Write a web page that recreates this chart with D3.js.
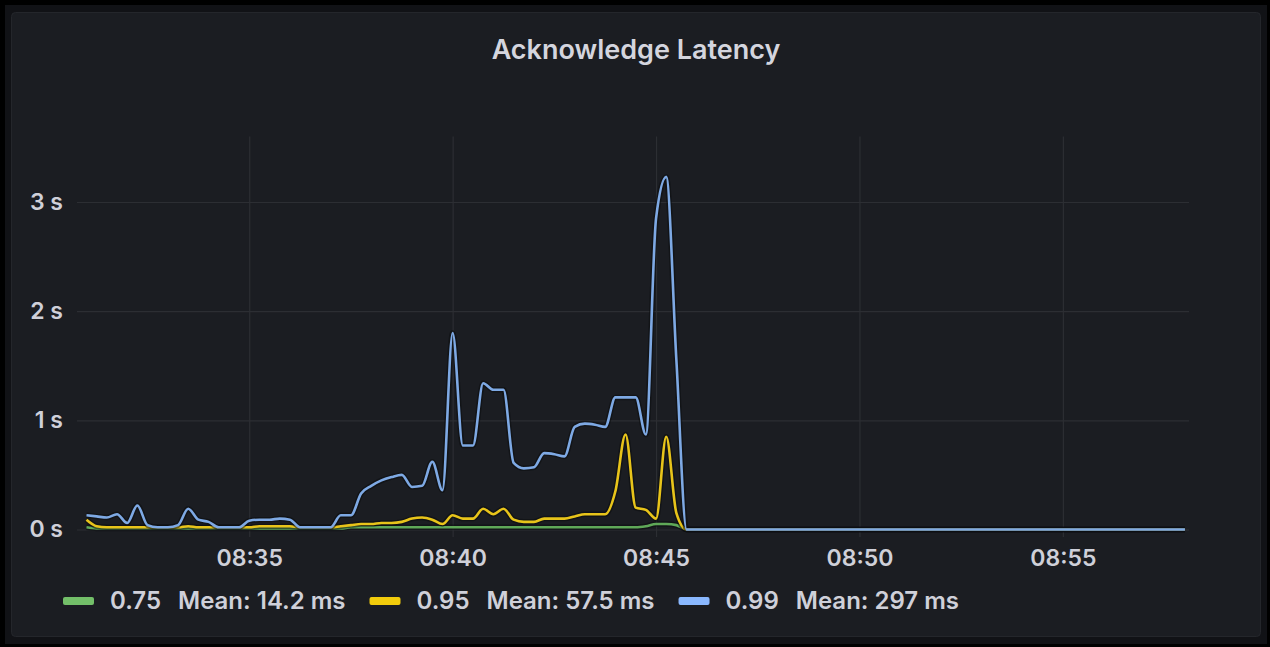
<!DOCTYPE html>
<html>
<head>
<meta charset="utf-8">
<script src="https://cdn.jsdelivr.net/npm/d3@7"></script>
<style>
  html, body { margin: 0; padding: 0; background: #000; }
  svg { display: block; font-family: Inter, "Noto Sans", sans-serif; }
</style>
</head>
<body>
<svg id="chart"></svg>
<script>
// Data (15 s samples, then flat zero to the end)
var times = [
    '08:31:00', '08:31:15', '08:31:30', '08:31:45', '08:32:00', '08:32:15', '08:32:30', '08:32:45',
    '08:33:00', '08:33:15', '08:33:30', '08:33:45', '08:34:00', '08:34:15', '08:34:30', '08:34:45',
    '08:35:00', '08:35:15', '08:35:30', '08:35:45', '08:36:00', '08:36:15', '08:36:30', '08:36:45',
    '08:37:00', '08:37:15', '08:37:30', '08:37:45', '08:38:00', '08:38:15', '08:38:30', '08:38:45',
    '08:39:00', '08:39:15', '08:39:30', '08:39:45', '08:40:00', '08:40:15', '08:40:30', '08:40:45',
    '08:41:00', '08:41:15', '08:41:30', '08:41:45', '08:42:00', '08:42:15', '08:42:30', '08:42:45',
    '08:43:00', '08:43:15', '08:43:30', '08:43:45', '08:44:00', '08:44:15', '08:44:30', '08:44:45',
    '08:45:00', '08:45:15', '08:45:30', '08:45:45', '08:58:00'
];

var p75 = [
    0.02, 0.01, 0.01, 0.01, 0.01, 0.01, 0.01, 0.01,
    0.01, 0.01, 0.01, 0.01, 0.01, 0.01, 0.01, 0.01,
    0.01, 0.01, 0.01, 0.01, 0.01, 0.01, 0.01, 0.01,
    0.01, 0.01, 0.02, 0.02, 0.02, 0.02, 0.02, 0.02,
    0.02, 0.02, 0.02, 0.02, 0.02, 0.02, 0.02, 0.02,
    0.02, 0.02, 0.02, 0.02, 0.02, 0.02, 0.02, 0.02,
    0.02, 0.02, 0.02, 0.02, 0.02, 0.02, 0.02, 0.03,
    0.05, 0.05, 0.04, 0, 0
];

var p95 = [
    0.09, 0.03, 0.02, 0.02, 0.02, 0.02, 0.02, 0.02,
    0.02, 0.02, 0.03, 0.02, 0.02, 0.02, 0.02, 0.02,
    0.02, 0.03, 0.03, 0.03, 0.03, 0.02, 0.02, 0.02,
    0.02, 0.03, 0.04, 0.05, 0.05, 0.06, 0.06, 0.07,
    0.10, 0.11, 0.09, 0.05, 0.13, 0.10, 0.10, 0.19,
    0.14, 0.19, 0.09, 0.07, 0.07, 0.10, 0.10, 0.10,
    0.12, 0.14, 0.14, 0.14, 0.35, 0.87, 0.20, 0.18,
    0.10, 0.85, 0.15, 0, 0
];

var p99 = [
    0.13, 0.12, 0.11, 0.14, 0.06, 0.22, 0.04, 0.02,
    0.02, 0.04, 0.19, 0.09, 0.07, 0.02, 0.02, 0.02,
    0.08, 0.09, 0.09, 0.10, 0.09, 0.02, 0.02, 0.02,
    0.02, 0.13, 0.13, 0.33, 0.40, 0.45, 0.48, 0.50,
    0.39, 0.40, 0.62, 0.36, 1.80, 0.77, 0.77, 1.34,
    1.28, 1.28, 0.61, 0.56, 0.57, 0.70, 0.69, 0.67,
    0.94, 0.97, 0.96, 0.94, 1.21, 1.21, 1.21, 0.87,
    2.85, 3.23, 1.55, 0, 0
];

var seriesNames = ['0.75', '0.95', '0.99'];
var seriesMeans = ['Mean: 14.2 ms', 'Mean: 57.5 ms', 'Mean: 297 ms'];
var seriesColors = ['#73bf69', '#f2cc0c', '#8ab8ff'];
var lineColors = ['#5fa858', '#e8c41a', '#7ea9e4'];
var yTicks = [0, 1, 2, 3];
var timeStart = '08:30:46';
var timeEnd = '08:58:06';

// Set up the svg area
var svgWidth = 1270;
var svgHeight = 647;

var svg = d3.select('#chart')
    .attr('width', svgWidth)
    .attr('height', svgHeight);

svg.append('rect')
    .attr('width', svgWidth)
    .attr('height', svgHeight)
    .attr('fill', '#000');

svg.append('rect')
    .attr('x', 5)
    .attr('y', 5)
    .attr('width', svgWidth - 8)
    .attr('height', svgHeight - 8)
    .attr('fill', '#111216');

svg.append('rect')
    .attr('x', 11.5)
    .attr('y', 12.5)
    .attr('width', 1249)
    .attr('height', 624)
    .attr('rx', 4)
    .attr('fill', '#1b1d22')
    .attr('stroke', '#24262b');

// Title
svg.append('text')
    .attr('x', 636)
    .attr('y', 50)
    .attr('dy', '0.35em')
    .attr('text-anchor', 'middle')
    .attr('fill', '#d4d5de')
    .style('font-size', '27px')
    .style('font-weight', 600)
    .text('Acknowledge Latency');

// Chart area
var plot = { left: 77, right: 1189, top: 136.5, zero: 529.5, bottom: 537 };

var parseTime = d3.timeParse('%H:%M:%S');

var xScale = d3.scaleTime()
    .domain([parseTime(timeStart), parseTime(timeEnd)])
    .range([plot.left, plot.right]);

var yScale = d3.scaleLinear()
    .domain([0, 3.6])
    .range([plot.zero, plot.top]);

// Axes with gridlines
var xAxis = svg.append('g')
    .attr('transform', `translate(0, ${plot.bottom})`)
    .call(d3.axisBottom(xScale)
        .ticks(d3.timeMinute.every(5))
        .tickFormat(d3.timeFormat('%H:%M'))
        .tickSize(-(plot.bottom - plot.top))
        .tickPadding(13));

var yAxis = svg.append('g')
    .attr('transform', `translate(${plot.left}, 0)`)
    .call(d3.axisLeft(yScale)
        .tickValues(yTicks)
        .tickFormat((d) => d + ' s')
        .tickSize(-(plot.right - plot.left))
        .tickPadding(14));

[xAxis, yAxis].forEach((axis) => {
    axis.select('.domain').remove();
    axis.selectAll('line')
        .attr('stroke', '#2c2e33')
        .attr('stroke-width', 1.2);
    axis.selectAll('text')
        .attr('fill', '#cfd0d9')
        .style('font-family', 'Inter, "Noto Sans", sans-serif')
        .style('font-size', '23px')
        .style('font-weight', 600);
});

// Lines
var dates = times.map((t) => parseTime(t));
var allSeries = [p75, p95, p99];

var line = d3.line()
    .x((d, i) => xScale(dates[i]))
    .y((d) => yScale(d))
    .curve(d3.curveMonotoneX);

allSeries.forEach((values, i) => {
    svg.append('path')
        .datum(values)
        .attr('d', line)
        .attr('fill', 'none')
        .attr('stroke', '#0b0c0f')
        .attr('stroke-opacity', 0.55)
        .attr('stroke-width', 5.5);
    svg.append('path')
        .datum(values)
        .attr('d', line)
        .attr('fill', 'none')
        .attr('stroke', lineColors[i])
        .attr('stroke-width', 2.6)
        .attr('stroke-linejoin', 'round');
});

// Legend
var legendY = 601;
var legendX = 63;

seriesNames.forEach((name, i) => {
    var item = svg.append('g');

    item.append('rect')
        .attr('x', legendX)
        .attr('y', legendY - 4)
        .attr('width', 31)
        .attr('height', 8)
        .attr('rx', 2)
        .attr('fill', seriesColors[i]);

    var label = item.append('text')
        .attr('x', legendX + 47)
        .attr('y', legendY)
        .attr('dy', '0.35em')
        .attr('fill', '#cfd0d9')
        .style('font-size', '24px')
        .style('font-weight', 600)
        .text(name);

    var meanX = legendX + 47 + label.node().getComputedTextLength() + 17;

    var mean = item.append('text')
        .attr('x', meanX)
        .attr('y', legendY)
        .attr('dy', '0.35em')
        .attr('fill', '#cfd0d9')
        .style('font-size', '24px')
        .style('font-weight', 600)
        .text(seriesMeans[i]);

    legendX = meanX + mean.node().getComputedTextLength() + 24;
});
</script>
</body>
</html>
